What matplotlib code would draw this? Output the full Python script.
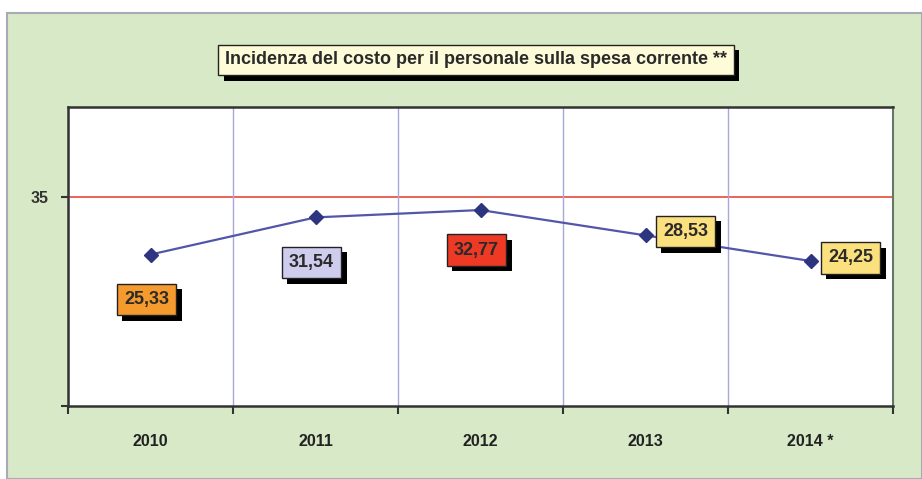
import matplotlib
matplotlib.use("Agg")
import matplotlib.pyplot as plt
import matplotlib.patheffects as pe
from matplotlib.patches import Rectangle

# data
years = ["2010", "2011", "2012", "2013", "2014 *"]
values = [25.33, 31.54, 32.77, 28.53, 24.25]
label_colors = ["#f59a2c", "#cfcdee", "#ee3a24", "#fbe07e", "#fbe07e"]
title = "Incidenza del costo per il personale sulla spesa corrente **"

# label offsets in pixels (dx, dy)
label_offsets = [(-4, -45), (-4, -45), (-4, -40), (40, 4), (40, 3)]

plt.rcParams["font.family"] = ["Liberation Sans", "DejaVu Sans"]

W, H = 922, 479
fig = plt.figure(figsize=(W / 100, H / 100), dpi=100, facecolor="white")

# green panel
fig.patches.append(
    Rectangle((7 / W, 0), (W - 7) / W, (H - 13) / H, transform=fig.transFigure,
              facecolor="#d7e9c6", edgecolor="#a9a9b8", linewidth=1.5, zorder=-5)
)

ax = fig.add_axes([68 / W, 73 / H, 825 / W, 299 / H])
ax.set_facecolor("white")

x = [i + 0.5 for i in range(len(years))]
ax.plot(x, values, color="#5356a8", linewidth=1.6, marker="D", markersize=7,
        markerfacecolor="#2e3580", markeredgecolor="#2e3580", zorder=3)

ax.set_xlim(0, len(years))
ax.set_ylim(0, 50)

ax.set_xticks(range(len(years) + 1))
ax.set_xticklabels([])
ax.set_xticks(x, minor=True)
ax.set_xticklabels(years, minor=True, fontsize=11.5, fontweight="bold", color="#222222")
ax.tick_params(axis="x", which="minor", length=0, pad=20)
ax.tick_params(axis="x", which="major", length=6, width=1.5, color="#333333", direction="out")
ax.grid(axis="x", which="major", color="#a8a8d8", linewidth=1.0)

ax.set_yticks([0, 35])
ax.set_yticklabels(["", "35"], fontsize=11.5, fontweight="bold", color="#333333")
ax.tick_params(axis="y", length=5, width=1.5, color="#333333", pad=9)
ax.axhline(35, color="#e8584a", linewidth=1.3, zorder=1)

for side in ["left", "bottom", "top"]:
    ax.spines[side].set_color("#333333")
    ax.spines[side].set_linewidth(1.8)
ax.spines["right"].set_color("#667766")
ax.spines["right"].set_linewidth(1.5)

shadow = [pe.SimplePatchShadow(offset=(4, -4), shadow_rgbFace="black", alpha=1.0),
          pe.Normal()]


def shadow_label(xy, text, color, offset, fontsize, coords="data", pad=0.3):
    t = ax.annotate(text, xy=xy, xycoords=coords, xytext=offset,
                    textcoords="offset pixels", ha="center", va="center",
                    fontsize=fontsize, fontweight="bold", color="#2a2a2a",
                    bbox=dict(boxstyle=f"square,pad={pad}", facecolor=color,
                              edgecolor="#222222", linewidth=1.0), zorder=5,
                    annotation_clip=False)
    t.get_bbox_patch().set_path_effects(shadow)
    return t


for xi, v, c, off in zip(x, values, label_colors, label_offsets):
    shadow_label((xi, v), f"{v:.2f}".replace(".", ","), c, off, 13, pad=0.4)

shadow_label((476 / W, (H - 60) / H), title, "#fdfbd8", (0, 0), 13,
             coords="figure fraction", pad=0.38)

fig.savefig("out.png", dpi=100, facecolor=fig.get_facecolor())
